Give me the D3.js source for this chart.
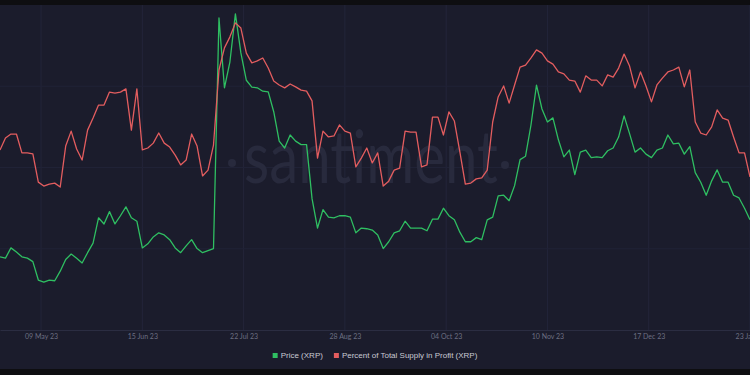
<!DOCTYPE html>
<html>
<head>
<meta charset="utf-8">
<script src="https://cdn.jsdelivr.net/npm/d3@7"></script>
<style>
  html, body { margin: 0; padding: 0; background: #0e0e11; }
  svg { display: block; }
</style>
</head>
<body>
<svg id="drawing_region"></svg>
<script>
// one value every 2 days, 24 Apr 2023 -> 23 Jan 2024
const startDate = "2023-04-24";
const stepDays = 2;

const priceXRP = [
  0.461, 0.459, 0.474, 0.468, 0.461, 0.459, 0.454, 0.427, 0.424, 0.427,
  0.426, 0.440, 0.457, 0.465, 0.459, 0.452, 0.467, 0.481, 0.518, 0.509,
  0.527, 0.509, 0.521, 0.534, 0.518, 0.513, 0.474, 0.480, 0.490, 0.496,
  0.493, 0.486, 0.474, 0.467, 0.477, 0.486, 0.473, 0.467, 0.470, 0.473,
  0.810, 0.708, 0.746, 0.816, 0.759, 0.719, 0.709, 0.708, 0.703, 0.702,
  0.673, 0.630, 0.620, 0.639, 0.630, 0.625, 0.625, 0.546, 0.503, 0.530,
  0.519, 0.518, 0.521, 0.521, 0.519, 0.496, 0.503, 0.502, 0.500, 0.493,
  0.473, 0.483, 0.496, 0.499, 0.513, 0.503, 0.503, 0.503, 0.499, 0.516,
  0.516, 0.532, 0.521, 0.515, 0.497, 0.483, 0.483, 0.489, 0.486, 0.515,
  0.519, 0.550, 0.551, 0.543, 0.565, 0.603, 0.608, 0.654, 0.712, 0.677,
  0.658, 0.664, 0.632, 0.607, 0.617, 0.581, 0.614, 0.617, 0.606, 0.607,
  0.606, 0.616, 0.620, 0.636, 0.667, 0.641, 0.614, 0.620, 0.611, 0.606,
  0.617, 0.620, 0.639, 0.626, 0.627, 0.611, 0.622, 0.584, 0.570, 0.551,
  0.572, 0.588, 0.570, 0.570, 0.551, 0.547, 0.532, 0.515
];

const supplyInProfit = [
  55.4, 59.1, 60.3, 60.3, 54.5, 54.5, 54.2, 45.5, 44.3, 44.9,
  45.2, 44.0, 56.6, 61.2, 55.7, 52.3, 61.5, 65.2, 69.2, 69.2,
  73.2, 72.9, 73.2, 74.2, 61.5, 74.2, 55.4, 56.0, 57.5, 60.6,
  57.5, 56.3, 53.8, 50.8, 52.3, 60.3, 56.6, 47.4, 49.2, 56.9,
  80.0, 86.8, 90.2, 94.5, 92.9, 85.2, 82.2, 82.8, 83.7, 80.6,
  76.6, 75.4, 74.5, 75.7, 74.8, 73.8, 73.5, 70.5, 52.9, 61.2,
  59.4, 59.7, 63.1, 61.2, 60.6, 50.2, 52.9, 56.0, 51.4, 54.5,
  44.3, 45.8, 49.2, 49.8, 61.2, 60.9, 60.9, 50.2, 50.8, 65.5,
  65.5, 60.0, 67.1, 64.3, 54.8, 44.9, 45.2, 46.5, 46.8, 49.2,
  64.0, 71.7, 75.1, 69.8, 75.4, 80.9, 81.5, 83.7, 86.2, 85.2,
  82.8, 81.8, 79.4, 78.8, 76.9, 76.6, 73.2, 78.2, 76.9, 76.9,
  75.1, 78.5, 77.8, 80.6, 84.9, 81.2, 74.5, 79.4, 75.1, 70.2,
  75.4, 77.5, 79.4, 80.0, 80.9, 74.8, 80.0, 64.0, 60.6, 60.0,
  62.5, 67.7, 65.2, 64.6, 59.4, 54.5, 54.5, 47.1
];

const tickDates = ["2023-05-09", "2023-06-15", "2023-07-22", "2023-08-28",
                   "2023-10-04", "2023-11-10", "2023-12-17", "2024-01-23"];

const legendItems = ["Price (XRP)", "Percent of Total Supply in Profit (XRP)"];
const seriesColors = ["#2fbf62", "#e35d5f"];

const width = 750, height = 375;
const plotTop = 5, plotBottom = 330;

const parse = d3.utcParse("%Y-%m-%d");
const t0 = parse(startDate);
const dates = priceXRP.map((_, i) => d3.utcDay.offset(t0, i * stepDays));

const svg = d3.select("#drawing_region")
    .attr("width", width)
    .attr("height", height);

// background panel
svg.append("rect").attr("x", 0).attr("y", 0).attr("width", width).attr("height", height).attr("fill", "#0e0e11");
svg.append("rect").attr("x", 0).attr("y", 5).attr("width", width).attr("height", 364).attr("fill", "#1b1c2c");

const x = d3.scaleUtc()
    .domain([t0, parse("2024-01-23")])
    .range([0, width]);

const yPrice = d3.scaleLinear().domain([0.354, 0.829]).range([plotBottom, plotTop]);
const yPct = d3.scaleLinear().domain([0, 100]).range([plotBottom, plotTop]);

// grid
const ticks = tickDates.map(parse);
svg.append("g")
    .selectAll("line")
    .data(ticks)
    .join("line")
    .attr("x1", d => x(d)).attr("x2", d => x(d))
    .attr("y1", plotTop).attr("y2", plotBottom)
    .attr("stroke", "#23253a")
    .attr("stroke-width", 1);

svg.append("g")
    .selectAll("line")
    .data([25, 50, 75])
    .join("line")
    .attr("x1", 0).attr("x2", width)
    .attr("y1", d => yPct(d)).attr("y2", d => yPct(d))
    .attr("stroke", "#202236")
    .attr("stroke-width", 1);

// watermark
const wm = svg.append("g").attr("fill", "#282a3d");
wm.append("text")
    .attr("x", 371).attr("y", 183)
    .attr("text-anchor", "middle")
    .attr("font-family", "Lato, 'Open Sans', sans-serif")
    .attr("font-weight", 400)
    .attr("font-size", 74)
    .attr("textLength", 254)
    .attr("lengthAdjust", "spacingAndGlyphs")
    .text("santiment");
wm.append("circle").attr("cx", 232).attr("cy", 163).attr("r", 4);
wm.append("circle").attr("cx", 505).attr("cy", 165).attr("r", 4);

// x axis
const xAxis = d3.axisBottom(x)
    .tickValues(ticks)
    .tickFormat(d3.utcFormat("%d %b %y"))
    .tickSize(0)
    .tickPadding(4);

const gx = svg.append("g")
    .attr("transform", `translate(0,${plotBottom})`)
    .call(xAxis);
gx.select(".domain").attr("stroke", "#2b2d42");
gx.selectAll("text")
    .attr("fill", "#6c6f82")
    .attr("font-family", "Lato, sans-serif")
    .attr("font-size", 7);

// lines
const priceLine = d3.line()
    .x((d, i) => x(dates[i]))
    .y(d => yPrice(d));
const pctLine = d3.line()
    .x((d, i) => x(dates[i]))
    .y(d => yPct(d));

svg.append("path")
    .datum(priceXRP)
    .attr("fill", "none")
    .attr("stroke", seriesColors[0])
    .attr("stroke-width", 1.3)
    .attr("stroke-linejoin", "round")
    .attr("d", priceLine);

svg.append("path")
    .datum(supplyInProfit)
    .attr("fill", "none")
    .attr("stroke", seriesColors[1])
    .attr("stroke-width", 1.3)
    .attr("stroke-linejoin", "round")
    .attr("d", pctLine);

// legend
const legend = svg.append("g");
let lx = 0;
legendItems.forEach((label, i) => {
    const g = legend.append("g").attr("transform", `translate(${lx},0)`);
    g.append("rect")
        .attr("x", 0).attr("y", -5)
        .attr("width", 5).attr("height", 5)
        .attr("fill", seriesColors[i]);
    const t = g.append("text")
        .attr("x", 8).attr("y", 0)
        .attr("fill", "#c9cad3")
        .attr("font-family", "Liberation Sans, Arial, sans-serif")
        .attr("font-size", 8)
        .text(label);
    lx += 8 + t.node().getComputedTextLength() + 11;
});
legend.attr("transform", `translate(${(width - (lx - 11)) / 2},358)`);
</script>
</body>
</html>
